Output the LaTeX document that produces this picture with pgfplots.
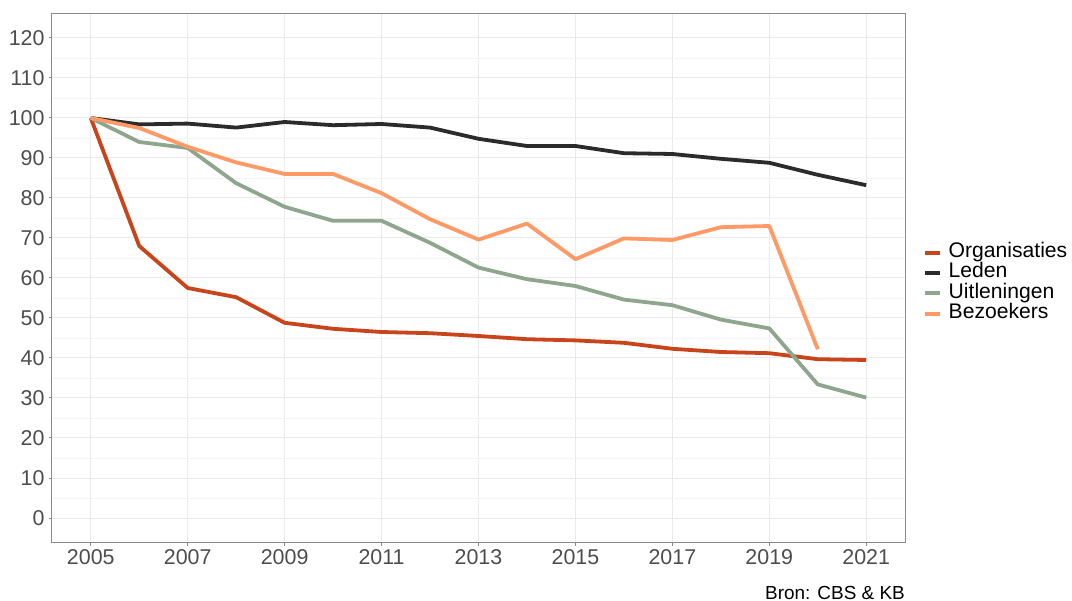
\documentclass[border=0pt]{standalone}
\usepackage{pgfplots}
\pgfplotsset{compat=1.18}
\usepackage{fontspec}
\setmainfont{Liberation Sans}
\definecolor{corg}{HTML}{C8441A}
\definecolor{cled}{HTML}{2B2B2B}
\definecolor{cuit}{HTML}{8FA68E}
\definecolor{cbez}{HTML}{FF9A66}
\definecolor{ctick}{HTML}{4D4D4D}
\definecolor{cgrid}{HTML}{EBEBEB}
\definecolor{cgridm}{HTML}{F4F4F4}
\definecolor{cframe}{HTML}{8A8A8A}
\begin{document}
\begin{tikzpicture}
\useasboundingbox (-52bp,-59bp) rectangle (1020bp,542bp);
\begin{axis}[
  scale only axis,
  width=853bp, height=528bp,
  xmin=2004.2, xmax=2021.8,
  ymin=-6, ymax=126,
  xtick={2005,2007,...,2021},
  ytick={0,10,...,120},
  minor x tick num=1,
  minor y tick num=1,
  grid=both,
  major grid style={draw=cgrid, line width=1bp},
  minor grid style={draw=cgridm, line width=0.6bp},
  axis line style={draw=cframe, line width=1bp},
  tick pos=left,
  tick align=outside,
  major tick length=3.5bp,
  minor tick length=0pt,
  tick style={draw=cframe, line width=1bp},
  /pgf/number format/assume math mode=true,
  /pgf/number format/1000 sep={},
  tick label style={font=\fontsize{21.5}{25}\selectfont, text=ctick},
  xticklabel style={yshift=-0.5bp},
  yticklabel style={xshift=-0.5bp},
  clip=false,
  legend cell align=left,
  legend style={at={(rel axis cs:1.0205,0.490)}, anchor=west, draw=none, fill=none,
    font=\fontsize{21.2}{25}\selectfont, inner sep=0pt,
    nodes={inner sep=0pt, text height=15bp, text depth=5.3bp, anchor=west},
    /tikz/every odd column/.append style={column sep=7bp}},
  legend image code/.code={\draw[#1, line width=4bp] (0bp,0bp) -- (15bp,0bp);},
  every axis plot/.append style={line width=3.8bp, line join=round, line cap=butt},
]
\addplot[corg] coordinates {
(2005,100) (2006,68) (2007,57.5) (2008,55.2) (2009,48.8) (2010,47.3) (2011,46.5) (2012,46.2)
(2013,45.5) (2014,44.7) (2015,44.4) (2016,43.8) (2017,42.3) (2018,41.5) (2019,41.2) (2020,39.7) (2021,39.5)};
\addlegendentry{Organisaties}
\addplot[cled] coordinates {
(2005,100) (2006,98.4) (2007,98.6) (2008,97.6) (2009,99) (2010,98.2) (2011,98.5) (2012,97.6)
(2013,94.8) (2014,93) (2015,93) (2016,91.2) (2017,91) (2018,89.8) (2019,88.8) (2020,85.8) (2021,83.2)};
\addlegendentry{Leden}
\addplot[cuit] coordinates {
(2005,100) (2006,94) (2007,92.5) (2008,83.7) (2009,77.8) (2010,74.3) (2011,74.3) (2012,68.8)
(2013,62.6) (2014,59.7) (2015,58) (2016,54.6) (2017,53.2) (2018,49.6) (2019,47.4) (2020,33.4) (2021,30.1)};
\addlegendentry{Uitleningen}
\addplot[cbez] coordinates {
(2005,100) (2006,97.5) (2007,92.8) (2008,88.9) (2009,86) (2010,86) (2011,81.2) (2012,74.7)
(2013,69.6) (2014,73.6) (2015,64.7) (2016,69.9) (2017,69.5) (2018,72.7) (2019,73) (2020,42.2)};
\addlegendentry{Bezoekers}
\node[anchor=base east, inner sep=0pt, font=\fontsize{19}{22}\selectfont] at ([yshift=-57bp]rel axis cs:1,0) {Bron: CBS \& KB};
\end{axis}
\end{tikzpicture}
\end{document}
